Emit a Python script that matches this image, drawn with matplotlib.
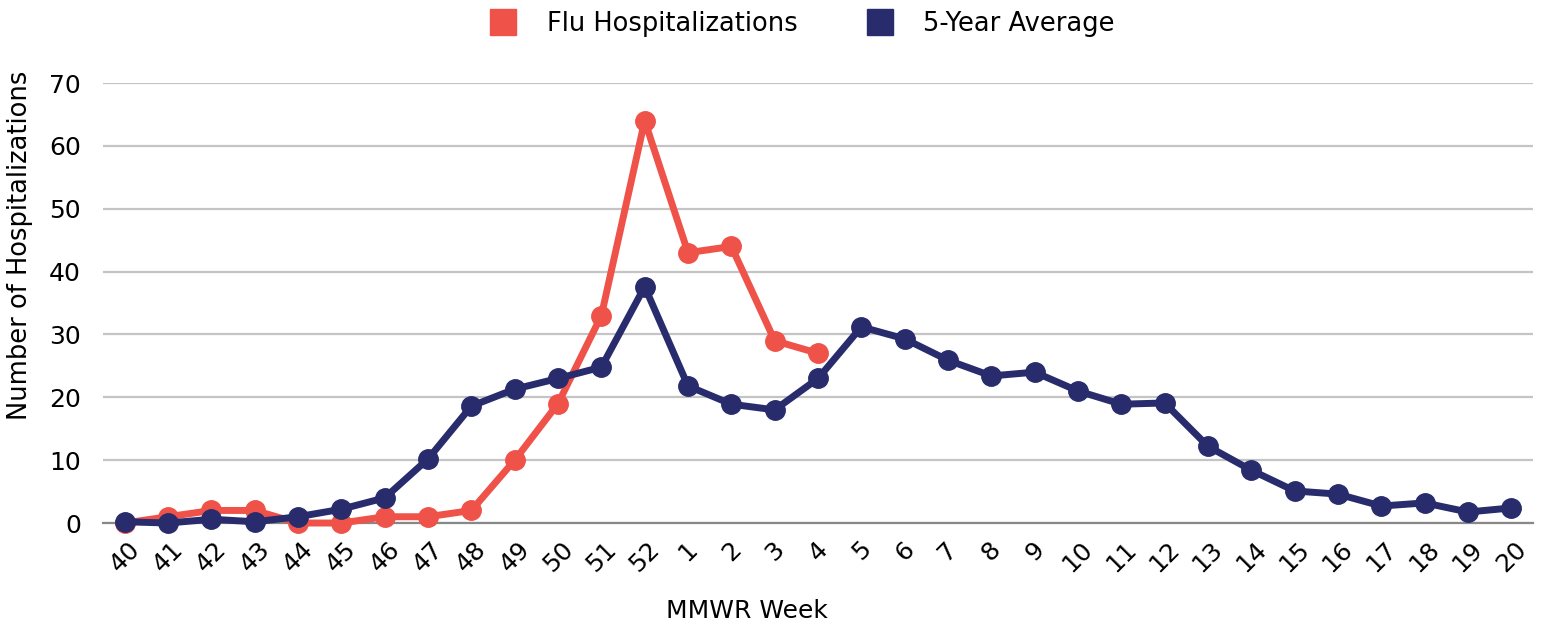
import numpy as np
import matplotlib.pyplot as plt
from matplotlib.lines import Line2D

plt.rcParams['font.family'] = ['DejaVu Sans']

weeks = ['40', '41', '42', '43', '44', '45', '46', '47', '48', '49', '50', '51', '52',
         '1', '2', '3', '4', '5', '6', '7', '8', '9', '10', '11', '12', '13', '14',
         '15', '16', '17', '18', '19', '20']
flu = [0, 1, 2, 2, 0, 0, 1, 1, 2, 10, 19, 33, 64, 43, 44, 29, 27]
avg5 = [0.2, 0, 0.6, 0.2, 1, 2.2, 4, 10.2, 18.6, 21.3, 23, 24.8, 37.6, 21.8, 18.9, 18, 23,
        31.2, 29.3, 25.9, 23.4, 24.0, 21.0, 18.9, 19.1, 12.2, 8.4, 5.1, 4.6, 2.7, 3.2, 1.75, 2.4]

red = '#ef5249'
navy = '#282c6c'

fig = plt.figure(figsize=(15.43, 6.26), dpi=100)
ax = fig.add_axes([0.0668, 0.1645, 0.9267, 0.7029])

x = np.arange(len(weeks))
ax.plot(x[:len(flu)], flu, color=red, lw=5, marker='o', ms=14, clip_on=False, zorder=3)
ax.plot(x, avg5, color=navy, lw=5, marker='o', ms=14, clip_on=False, zorder=4)

ax.set_xlim(-0.5, len(weeks) - 0.5)
ax.set_ylim(0, 70)
ax.set_yticks(range(0, 71, 10))
ax.set_xticks(x)
ax.set_xticklabels(weeks, rotation=45, ha='center', va='top')
ax.tick_params(axis='both', length=0, labelsize=18)
ax.tick_params(axis='x', pad=10)
ax.tick_params(axis='y', pad=16)
ax.grid(axis='y', color='#c4c4c4', lw=1.6)
ax.set_axisbelow(True)
for s in ['top', 'right', 'left']:
    ax.spines[s].set_visible(False)
ax.spines['bottom'].set_color('#888888')
ax.spines['bottom'].set_linewidth(1.6)

ax.set_xlabel('MMWR Week', fontsize=18)
ax.set_ylabel('Number of Hospitalizations', fontsize=18.5)
ax.xaxis.set_label_coords(0.45, -0.172)
ax.yaxis.set_label_coords(-0.049, 0.632)

handles = [Line2D([], [], ls='none', marker='s', ms=19, color=red),
           Line2D([], [], ls='none', marker='s', ms=19, color=navy)]
fig.legend(handles, ['Flu Hospitalizations', '5-Year Average'], loc='center',
           bbox_to_anchor=(0.516, 0.962), ncol=2, frameon=False, fontsize=18.5,
           handletextpad=0.7, columnspacing=2.2)

fig.savefig('out.png', dpi=100)
